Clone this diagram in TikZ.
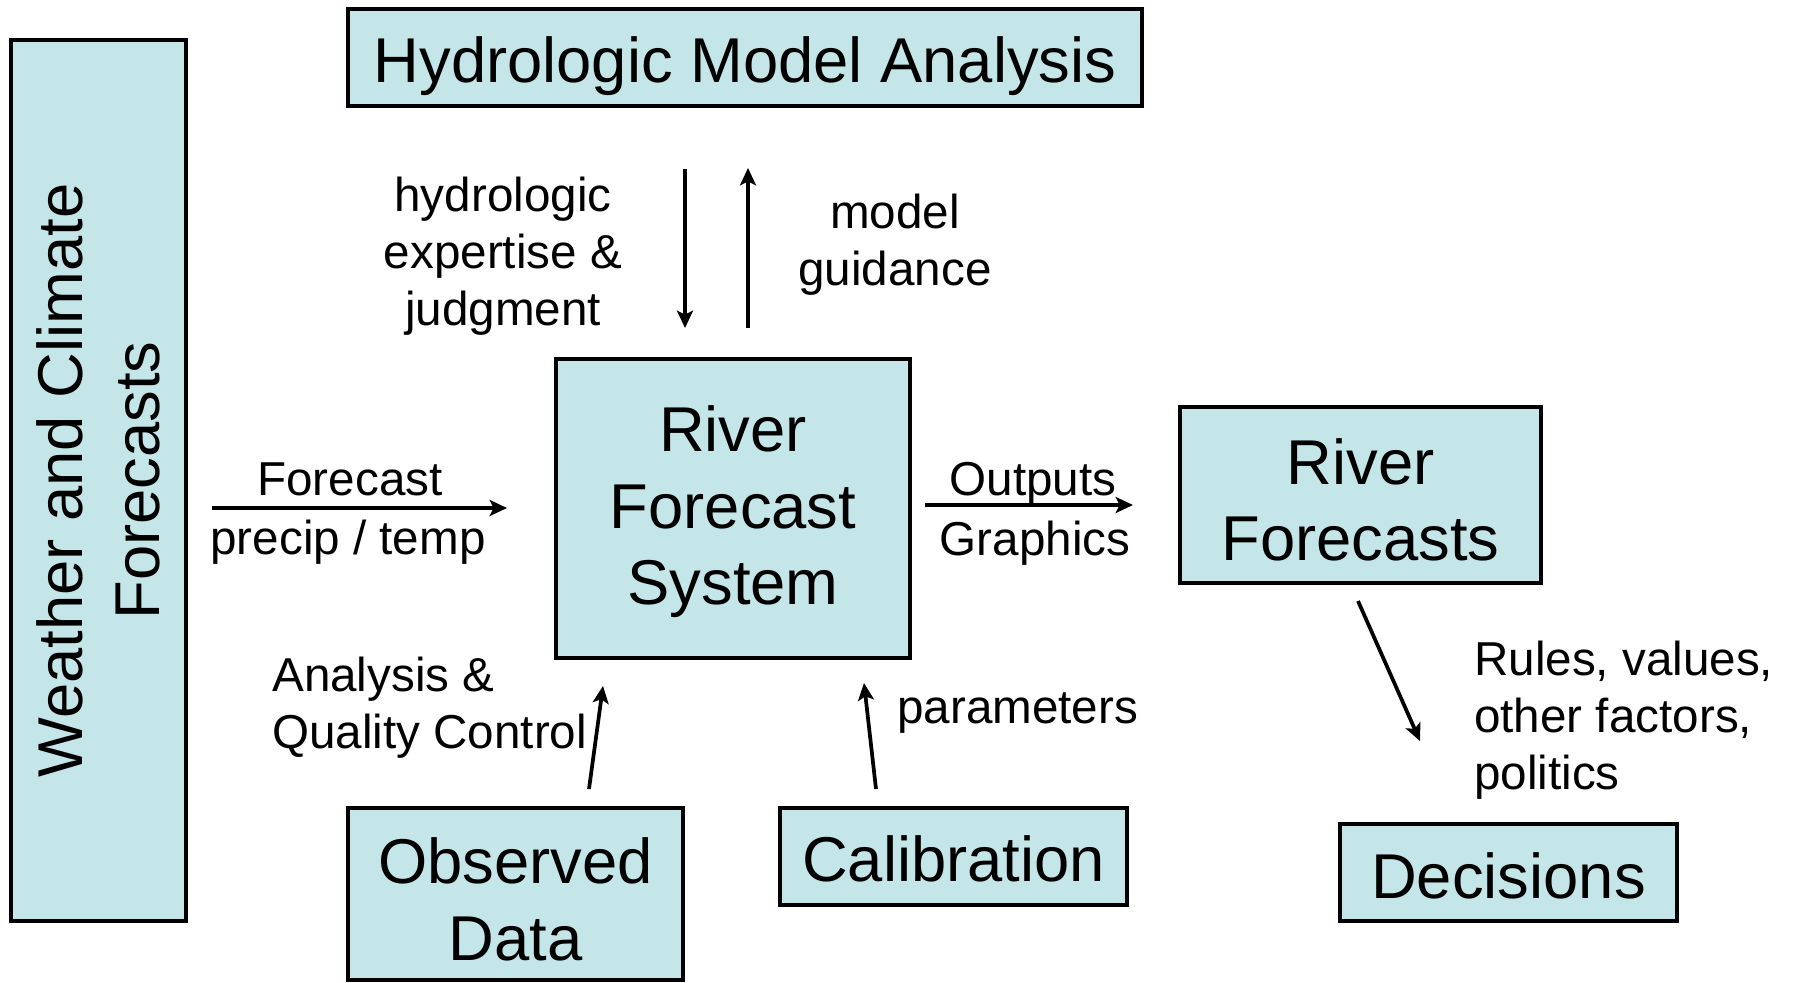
\documentclass[tikz,border=0pt]{standalone}
\usepackage{fontspec}
\setmainfont{Liberation Sans}
\usetikzlibrary{arrows.meta}
\definecolor{boxfill}{RGB}{196,230,232}
\newcommand\BigTxt{\fontsize{47.5}{57.4}\selectfont}
\newcommand\SmallTxt{\fontsize{35.7}{42.8}\selectfont}
\begin{document}
\begin{tikzpicture}[x=0.75pt,y=-0.75pt,
  box/.style={draw=black, line width=3.5pt, fill=boxfill, inner sep=0pt, align=center, font=\BigTxt},
  lbl/.style={inner sep=0pt, font=\SmallTxt},
  conn/.style={line width=2.8pt, -{Stealth[length=13pt,width=12pt,inset=3pt]}}]
\useasboundingbox (0,0) rectangle (1794,982);

% boxes
\node[box, minimum width=660.75pt, minimum height=131.25pt, rotate=90] (wcf) at (98.5,480.5) {Weather and Climate\\Forecasts};
\node[box, minimum width=595.5pt, minimum height=72.75pt, text height=38pt, text depth=0pt] (hma) at (745,57.5) {Hydrologic Model Analysis};
\node[box, minimum width=265.5pt, minimum height=224.25pt, text depth=5pt] (rfs) at (733,508.5) {River\\Forecast\\System};
\node[box, minimum width=270.75pt, minimum height=132pt, text height=98.3pt, text depth=0pt] (rf) at (1360.5,495) {River\\Forecasts};
\node[box, minimum width=251.25pt, minimum height=129pt, text height=99.3pt, text depth=0pt] (obs) at (515.5,894) {Observed\\Data};
\node[box, minimum width=260.25pt, minimum height=72.75pt, text height=38pt, text depth=0pt] (cal) at (953.5,856.5) {Calibration};
\node[box, minimum width=252.75pt, minimum height=72.75pt, text height=39.7pt, text depth=0pt] (dec) at (1508.5,872.5) {Decisions};

% labels
\node[lbl, anchor=base] (lfc) at (350,495) {Forecast};
\node[lbl, anchor=base] (lpt) at (348,554) {precip / temp};
\node[lbl, anchor=base] (lout) at (1033,495) {Outputs};
\node[lbl, anchor=base] (lgr) at (1035,555) {Graphics};
\node[lbl, align=center, anchor=north] (lhyd) at (503,177) {hydrologic\\expertise \&\\judgment};
\node[lbl, align=center, anchor=north] (lmod) at (895,194) {model\\guidance};
\node[lbl, align=left, anchor=north west] (laqc) at (272,657) {Analysis \&\\Quality Control};
\node[lbl, anchor=base west] (lpar) at (897,723) {parameters};
\node[lbl, align=left, anchor=north west] (lrul) at (1474,641) {Rules, values,\\other factors,\\politics};

% arrow end points
\coordinate (fa1) at (212,508);  \coordinate (fa2) at (507,508);
\coordinate (oa1) at (925,505);  \coordinate (oa2) at (1133,505);
\coordinate (da1) at (685,169);  \coordinate (da2) at (685,328);
\coordinate (ua1) at (748,328);  \coordinate (ua2) at (748,168);
\coordinate (aa1) at (589,789);  \coordinate (aa2) at (603,686);
\coordinate (pa1) at (876,789);  \coordinate (pa2) at (864,683);
\coordinate (ra1) at (1358,601); \coordinate (ra2) at (1420,741);

\draw[conn] (fa1) -- (fa2);
\draw[conn] (oa1) -- (oa2);
\draw[conn] (da1) -- (da2);
\draw[conn] (ua1) -- (ua2);
\draw[conn] (aa1) -- (aa2);
\draw[conn] (pa1) -- (pa2);
\draw[conn] (ra1) -- (ra2);
\end{tikzpicture}
\end{document}
